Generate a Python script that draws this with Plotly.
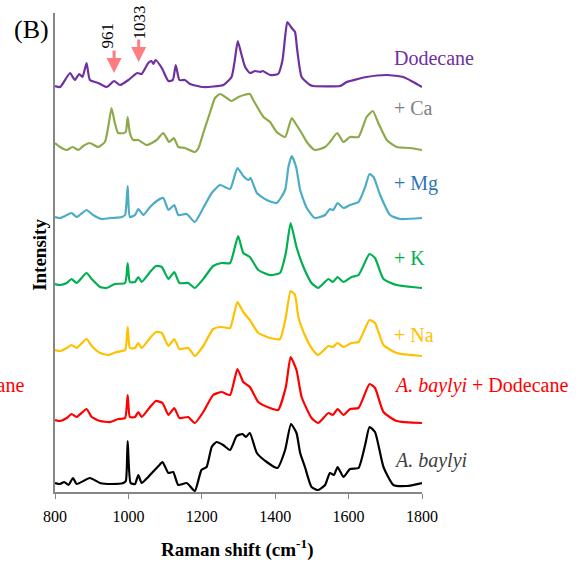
import plotly.graph_objects as go

# Raman spectra (wavenumber cm-1, relative intensity a.u.)
abaylyi_x = [800, 814, 825, 837, 849, 859, 895, 923, 954, 986, 993, 998, 1006, 1018, 1027, 1036, 1054, 1082, 1093, 1109, 1122, 1136, 1159, 1181, 1199, 1213, 1227, 1240, 1258, 1277, 1295, 1311, 1320, 1331, 1350, 1377, 1406, 1427, 1443, 1458, 1468, 1481, 1499, 1517, 1536, 1549, 1560, 1570, 1586, 1604, 1627, 1645, 1657, 1672, 1695, 1722, 1758, 1800]
abaylyi_y = [2, 1, 3, 0, 7, 1, 7, 2, 1, 2, 4, 44, 2, 1, 10, 2, 8, 19, 23, 12, 13, 0, 2, -6, 15, 18, 38, 43, 40, 35, 49, 51, 48, 52, 32, 23, 17, 35, 61, 52, 32, 18, -2, -5, 0, 12, 10, 18, 8, 16, 17, 40, 58, 53, 18, 0, -1, 2]

abd_x = [800, 814, 832, 845, 859, 886, 900, 923, 950, 972, 991, 998, 1004, 1018, 1027, 1036, 1059, 1075, 1093, 1109, 1125, 1139, 1163, 1181, 1204, 1231, 1254, 1277, 1297, 1313, 1331, 1354, 1386, 1408, 1429, 1442, 1458, 1472, 1499, 1517, 1545, 1557, 1570, 1586, 1604, 1627, 1657, 1672, 1695, 1731, 1800]
abd_y = [2, 1, 4, 8, 5, 13, 5, 1, 0, 3, 4, 27, 5, 5, 10, 5, 15, 21, 19, 7, 14, 4, 5, -1, 10, 27, 30, 27, 53, 40, 35, 20, 14, 12, 35, 65, 52, 25, 4, -1, 9, 7, 13, 7, 13, 14, 38, 34, 10, 1, -1]

na_x = [800, 814, 832, 845, 859, 886, 900, 923, 945, 968, 991, 998, 1004, 1018, 1027, 1036, 1059, 1075, 1091, 1109, 1125, 1139, 1163, 1181, 1204, 1231, 1254, 1277, 1297, 1313, 1331, 1354, 1386, 1413, 1429, 1442, 1454, 1463, 1477, 1499, 1517, 1545, 1557, 1570, 1586, 1608, 1627, 1657, 1672, 1695, 1731, 1800]
na_y = [5, 4, 7, 10, 7, 16, 9, 2, 0, 3, 5, 28, 7, 7, 12, 7, 17, 23, 22, 9, 16, 6, 7, -1, 9, 26, 28, 27, 53, 43, 35, 22, 17, 16, 38, 64, 60, 38, 23, 7, 0, 9, 8, 12, 8, 12, 13, 35, 32, 10, 2, -1]

k_x = [800, 814, 832, 845, 859, 886, 900, 923, 941, 963, 991, 998, 1004, 1018, 1027, 1036, 1059, 1075, 1091, 1109, 1125, 1139, 1163, 1181, 1204, 1231, 1254, 1277, 1299, 1313, 1331, 1354, 1386, 1413, 1429, 1442, 1458, 1477, 1499, 1517, 1545, 1557, 1570, 1586, 1608, 1627, 1657, 1672, 1695, 1731, 1800]
k_y = [4, 3, 5, 9, 5, 15, 9, 1, 0, 4, 5, 25, 6, 6, 11, 6, 16, 22, 21, 9, 16, 5, 5, 0, 9, 22, 25, 25, 52, 35, 31, 18, 13, 15, 35, 65, 41, 21, 5, 0, 9, 6, 11, 6, 11, 13, 34, 30, 9, 3, 0]

mg_x = [800, 814, 827, 845, 859, 886, 904, 927, 954, 982, 991, 998, 1004, 1018, 1027, 1041, 1059, 1077, 1095, 1109, 1125, 1136, 1159, 1181, 1204, 1227, 1250, 1277, 1297, 1313, 1327, 1333, 1350, 1377, 1404, 1427, 1436, 1445, 1457, 1468, 1486, 1508, 1536, 1549, 1558, 1570, 1586, 1604, 1627, 1645, 1657, 1668, 1686, 1713, 1740, 1800]
mg_y = [1, 0, 2, 5, 1, 8, 3, -1, 0, 1, 3, 32, 1, 3, 9, 3, 11, 17, 20, 8, 13, 3, 4, -4, 10, 25, 33, 29, 50, 42, 38, 40, 25, 18, 15, 28, 51, 62, 51, 28, 10, 0, 3, 9, 8, 15, 10, 13, 16, 31, 44, 41, 23, 3, -1, 0]

ca_x = [800, 814, 832, 848, 864, 877, 895, 918, 936, 945, 954, 963, 972, 988, 993, 998, 1004, 1013, 1027, 1050, 1077, 1095, 1111, 1124, 1136, 1154, 1181, 1191, 1204, 1222, 1236, 1250, 1268, 1281, 1300, 1315, 1331, 1340, 1348, 1368, 1386, 1404, 1427, 1445, 1458, 1472, 1486, 1508, 1536, 1549, 1569, 1586, 1604, 1627, 1649, 1666, 1681, 1704, 1731, 1767, 1800]
ca_y = [7, 3, 0, 3, 0, 4, 7, 3, 8, 23, 42, 27, 17, 17, 18, 33, 17, 10, 10, 5, 10, 17, 8, 12, 3, 2, -2, 2, 17, 37, 52, 56, 52, 49, 53, 55, 56, 50, 45, 33, 28, 18, 13, 32, 25, 17, 8, 0, 3, 8, 17, 8, 13, 13, 33, 39, 27, 10, 3, 2, 0]

dod_x = [800, 814, 841, 854, 866, 875, 886, 895, 918, 941, 961, 977, 1000, 1024, 1036, 1054, 1063, 1068, 1074, 1091, 1109, 1121, 1129, 1139, 1154, 1168, 1204, 1259, 1281, 1290, 1298, 1307, 1318, 1331, 1345, 1359, 1366, 1386, 1408, 1420, 1427, 1433, 1445, 1454, 1460, 1472, 1495, 1504, 1577, 1595, 1649, 1704, 1749, 1776, 1800]
dod_y = [1, 0, 14, 7, 13, 10, 24, 7, 4, 0, 6, 2, 7, 14, 13, 24, 26, 23, 27, 19, 6, 7, 22, 7, 7, 3, 0, 2, 10, 27, 46, 34, 20, 14, 16, 15, 16, 12, 13, 27, 50, 65, 59, 55, 37, 10, 2, 1, 1, 5, 10, 12, 10, 5, 0]

series_names = ["A. baylyi", "A. baylyi + Dodecane", "+ Na", "+ K", "+ Mg", "+ Ca", "Dodecane"]
series_x = [abaylyi_x, abd_x, na_x, k_x, mg_x, ca_x, dod_x]
series_y = [abaylyi_y, abd_y, na_y, k_y, mg_y, ca_y, dod_y]
stack_offsets = [7, 70, 137, 204, 274, 342, 405]

label_texts = ["<i>A. baylyi</i>", "<i>A. baylyi</i> + Dodecane", "+ Na", "+ K", "+ Mg", "+ Ca", "Dodecane"]
label_heights = [32, 107, 157, 234, 309, 384, 434]

line_colors = ["#000000", "#FF0000", "#FFC000", "#00B050", "#4BACC6", "#8DAA4B", "#7030A0"]
label_colors = ["#404040", "#FF0000", "#FFC000", "#00B050", "#2E75B6", "#808080", "#7030A0"]

marked_peaks = ["961", "1033"]
arrow_x = [961, 1028]
arrow_tip_y = [419, 430]

SERIF = "Liberation Serif"

fig = go.Figure()
for name, xs, ys, off, col in zip(series_names, series_x, series_y, stack_offsets, line_colors):
    fig.add_trace(go.Scatter(
        x=xs, y=[v + off for v in ys], mode="lines", name=name,
        line=dict(color=col, width=2.2, shape="spline", smoothing=0.5),
        showlegend=False, hoverinfo="skip"))

annotations = []
for txt, yy, col in zip(label_texts, label_heights, label_colors):
    annotations.append(dict(x=1718, y=yy, xref="x", yref="y", text=txt, showarrow=False,
                            xanchor="left", yanchor="middle",
                            font=dict(family=SERIF, size=20, color=col)))

# cropped label from neighbouring panel
annotations.append(dict(x=-0.079, y=107, xref="paper", yref="y",
                        text="<i>A. baylyi</i> + Dodecane", showarrow=False,
                        xanchor="right", yanchor="middle",
                        font=dict(family=SERIF, size=20, color="#FF0000")))

for ax_, tip in zip(arrow_x, arrow_tip_y):
    annotations.append(dict(x=ax_, y=tip, xref="x", yref="y", ax=0, ay=-24,
                            showarrow=True, arrowhead=2, arrowsize=1, arrowwidth=3,
                            arrowcolor="#FF7C80", text=""))
for lab, lx, ly in zip(marked_peaks, [943, 1029], [457, 469.5]):
    annotations.append(dict(x=lx, y=ly, xref="x", yref="y", text=lab, showarrow=False,
                            textangle=-90, xanchor="center", yanchor="middle",
                            font=dict(family=SERIF, size=17, color="#000000")))

annotations.append(dict(x=-0.041, y=0.495, xref="paper", yref="paper", text="<b>Intensity</b>",
                        showarrow=False, textangle=-90, xanchor="center", yanchor="middle",
                        font=dict(family=SERIF, size=19, color="#000000")))
annotations.append(dict(x=0.496, y=-0.117, xref="paper", yref="paper",
                        text="<b>Raman shift (cm<sup>-1</sup>)</b>",
                        showarrow=False, xanchor="center", yanchor="middle",
                        font=dict(family=SERIF, size=19, color="#000000")))
annotations.append(dict(x=-0.063, y=0.965, xref="paper", yref="paper", text="(B)",
                        showarrow=False, xanchor="center", yanchor="middle",
                        font=dict(family=SERIF, size=26, color="#000000")))

fig.update_layout(
    width=582, height=565,
    font=dict(family=SERIF),
    margin=dict(l=55, r=160, t=13, b=73, pad=0),
    paper_bgcolor="white", plot_bgcolor="white",
    annotations=annotations,
    xaxis=dict(range=[800, 1800], tickvals=[800, 1000, 1200, 1400, 1600, 1800],
               ticks="outside", ticklen=5, tickwidth=1, tickcolor="#868686",
               showline=True, linecolor="#868686", linewidth=1.5, showgrid=False,
               zeroline=False, ticklabelstandoff=4,
               tickfont=dict(family=SERIF, size=16, color="#000000")),
    yaxis=dict(range=[0, 479], showticklabels=False, ticks="", showline=True,
               linecolor="#868686", linewidth=1.5, showgrid=False, zeroline=False),
)

fig.write_html("out.html")
